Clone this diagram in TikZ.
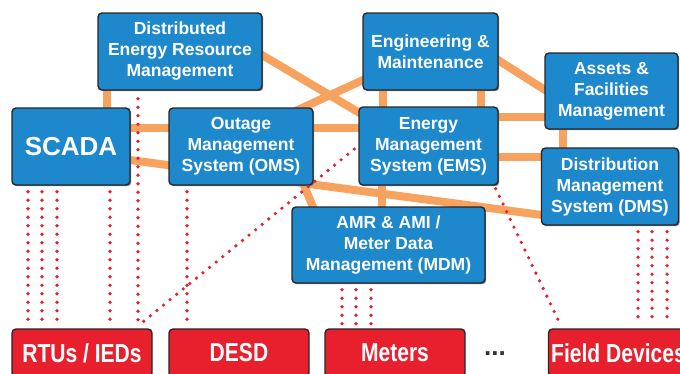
\documentclass[tikz,border=0pt]{standalone}
\usepackage{fontspec}
\setmainfont{Liberation Sans}
\newfontfamily\condfont[FakeStretch=0.81]{Liberation Sans}
\usepackage{tikz}
\usetikzlibrary{positioning,calc,backgrounds,shadows}

\definecolor{sysblue}{RGB}{30,136,204}
\definecolor{devred}{RGB}{232,32,46}
\definecolor{linkorange}{RGB}{247,162,94}
\definecolor{feedred}{RGB}{232,30,48}

\tikzset{
  sys/.style={rectangle,rounded corners=4pt,draw=black!85,line width=1.4pt,
    fill=sysblue,text=white,align=center,inner sep=0pt,
    font=\fontsize{17.5}{21}\selectfont\bfseries,
    drop shadow={shadow xshift=1.2pt,shadow yshift=-1.2pt,fill=black!50,opacity=1}},
  dev/.style={rectangle,rounded corners=4pt,draw=black!85,line width=1.4pt,
    fill=devred,text=white,inner sep=0pt,minimum width=140pt,minimum height=48pt,
    font=\condfont\fontsize{26}{30}\selectfont\bfseries},
  link/.style={linkorange,line width=8pt},
  feed/.style={feedred,line width=3.6pt,line cap=round,dash pattern=on 0pt off 8.5pt}
}

\begin{document}
\begin{tikzpicture}[x=1pt,y=-1pt]
\useasboundingbox (0,0) rectangle (680,373);
\clip (0,0) rectangle (680,373);

\node[sys,minimum width=164pt,minimum height=77pt](derm) at (180,51.5){Distributed\\Energy Resource\\Management};
\node[sys,minimum width=118pt,minimum height=77pt,font=\fontsize{26}{30}\selectfont\bfseries](scada) at (71,146.5){SCADA};
\node[sys,minimum width=144pt,minimum height=77pt](oms) at (241,146.5){Outage\\Management\\System (OMS)};
\node[sys,minimum width=135pt,minimum height=77pt](eng) at (430.5,51.5){Engineering \&\\Maintenance};
\node[sys,minimum width=139pt,minimum height=78pt](ems) at (428.5,146){Energy\\Management\\System (EMS)};
\node[sys,minimum width=133pt,minimum height=76pt](assets) at (611.5,91){Assets \&\\Facilities\\Management};
\node[sys,minimum width=137pt,minimum height=77pt](dms) at (610,186.5){Distribution\\Management\\System (DMS)};
\node[sys,minimum width=193pt,minimum height=76pt](mdm) at (388.5,245){AMR \& AMI /\\Meter Data\\Management (MDM)};

\node[dev](rtu) at (82,353){RTUs / IEDs};
\node[dev](desd) at (239,353){DESD};
\node[dev](meters) at (395,353){Meters};
\node[dev](field) at (618.5,353){Field Devices};
\node[inner sep=0pt,text=black!80,font=\fontsize{26}{30}\selectfont\bfseries](more) at (495,354){...};

\begin{scope}[on background layer]
\draw[link] ($(scada)+(36,0)$) -- ($(derm)+(-73,0)$);
\draw[link] ($(derm)+(65,-6.6)$) -- ($(ems)+(-53.5,-23.9)$);
\draw[link] ($(oms)+(44,-30.7)$) -- ($(eng)+(-50.5,20.7)$);
\draw[link] ($(scada)+(0,-18.5)$) -- ($(oms)+(0,-18.5)$);
\draw[link] ($(scada)+(29,9.5)$) -- ($(dms)+(-30,33.6)$);
\draw[link] ($(oms)+(0,-18.5)$) -- ($(ems)+(0,-18)$);
\draw[link] ($(eng)+(-47.5,0)$) -- ($(ems)+(-45.5,0)$);
\draw[link] ($(eng)+(50.5,0)$) -- ($(ems)+(52.5,0)$);
\draw[link] ($(eng)+(49.5,-3)$) -- ($(assets)+(-46.5,11.8)$);
\draw[link] ($(ems)+(0,-29)$) -- ($(assets)+(0,26)$);
\draw[link] ($(assets)+(-48.5,0)$) -- ($(dms)+(-47,0)$);
\draw[link] ($(ems)+(0,10.5)$) -- ($(dms)+(0,-30)$);
\draw[link] ($(oms)+(56.5,23.5)$) -- ($(mdm)+(-70,-25)$);
\draw[link] ($(ems)+(-46.5,0)$) -- ($(mdm)+(-6.5,0)$);
\end{scope}

\foreach \dx in {-43,-29,-14,39}
  \draw[feed] ($(scada.south)+(\dx,6)$) -- ($(rtu.north)+({\dx-11},-4)$);
\draw[feed] ($(derm.south)+(-42,8)$) -- ($(rtu.north)+(56,-4)$);
\draw[feed] ($(ems.west)+(-4,3)$) -- ($(rtu.north)+(58,-4)$);
\draw[feed] ($(oms.south)+(-54,6)$) -- ($(desd.north)+(-52,-4)$);
\foreach \dx in {-46.5,-32.5,-17.5}
  \draw[feed] ($(mdm.south)+(\dx,6)$) -- ($(meters.north)+({\dx-6.5},-4)$);
\draw[feed] ($(ems.south east)+(-3,3)$) -- ($(field.north west)+(11.5,-6)$);
\foreach \dx in {28,42,57}
  \draw[feed] ($(dms.south)+(\dx,6)$) -- ($(field.north)+({\dx-8.5},-4)$);

\end{tikzpicture}
\end{document}
